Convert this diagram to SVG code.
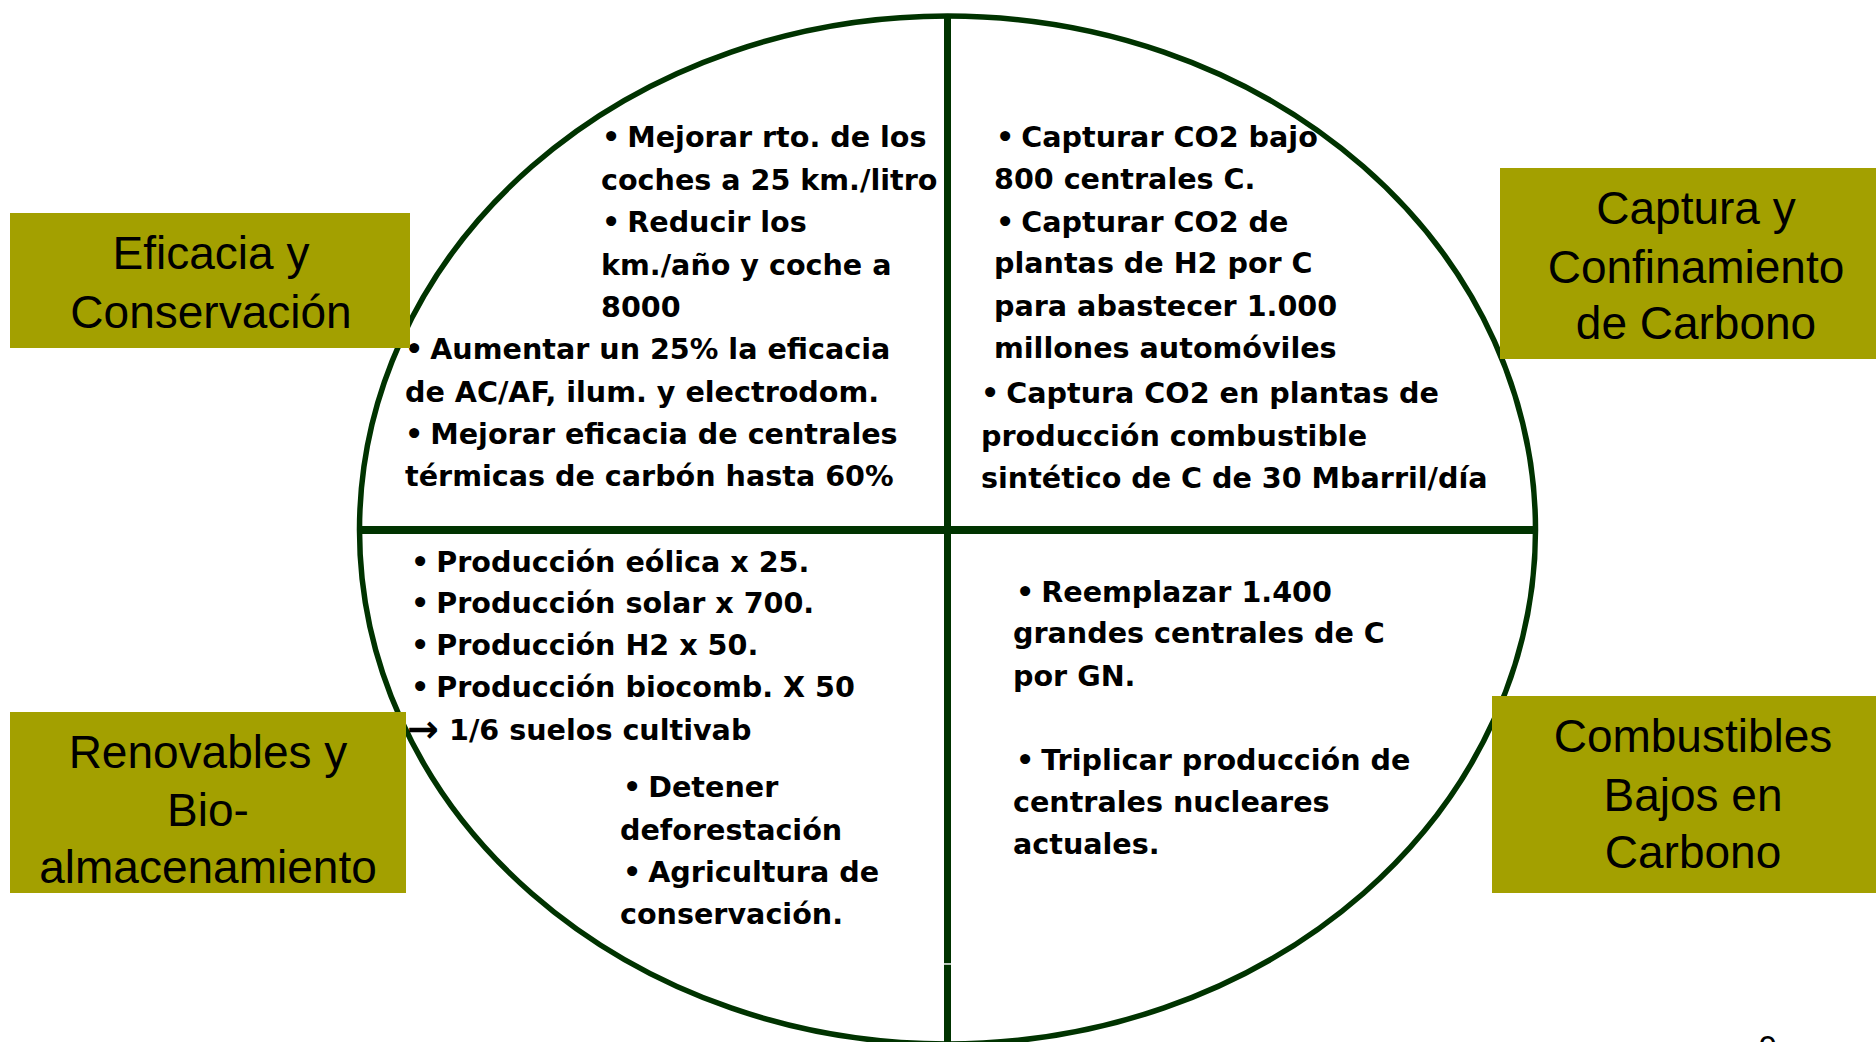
<svg xmlns="http://www.w3.org/2000/svg" width="1876" height="1042" viewBox="0 0 1876 1042">
<style>
.frame{fill:none;stroke:#003300;}
.box{fill:#A3A000;}
.title{font-family:"Liberation Sans",Arial,sans-serif;font-size:46px;fill:#000;text-anchor:middle;}
.body{font-family:"DejaVu Sans",Verdana,sans-serif;font-weight:bold;font-size:28.6px;fill:#000;}
.b{letter-spacing:-3px;}
</style>
<rect width="1876" height="1042" fill="#fff"/>
<g id="connectors">
  <ellipse class="frame" cx="947.5" cy="530" rx="588" ry="514" stroke-width="5.5"/>
  <line class="frame" x1="360" y1="530" x2="1535" y2="530" stroke-width="8"/>
  <line class="frame" x1="947.5" y1="16" x2="947.5" y2="963.3" stroke-width="7"/>
  <line class="frame" x1="947.5" y1="964.7" x2="947.5" y2="1042" stroke-width="7"/>
</g>
<g id="quadrant-tl">
  <text class="body" x="602" y="147"><tspan class="b">•</tspan> Mejorar rto. de los</text>
  <text class="body" x="601" y="190">coches a 25 km./litro</text>
  <text class="body" x="602" y="232"><tspan class="b">•</tspan> Reducir los</text>
  <text class="body" x="601" y="275">km./año y coche a</text>
  <text class="body" x="601" y="317">8000</text>
  <text class="body" x="405" y="359"><tspan class="b">•</tspan> Aumentar un 25% la eficacia</text>
  <text class="body" x="405" y="402">de AC/AF, ilum. y electrodom.</text>
  <text class="body" x="405" y="444"><tspan class="b">•</tspan> Mejorar eficacia de centrales</text>
  <text class="body" x="405" y="486">térmicas de carbón hasta 60%</text>
</g>
<g id="quadrant-tr">
  <text class="body" x="996" y="147"><tspan class="b">•</tspan> Capturar CO2 bajo</text>
  <text class="body" x="994" y="189">800 centrales C.</text>
  <text class="body" x="996" y="232"><tspan class="b">•</tspan> Capturar CO2 de</text>
  <text class="body" x="994" y="273">plantas de H2 por C</text>
  <text class="body" x="994" y="316">para abastecer 1.000</text>
  <text class="body" x="994" y="358">millones automóviles</text>
  <text class="body" x="981" y="403"><tspan class="b">•</tspan> Captura CO2 en plantas de</text>
  <text class="body" x="981" y="446">producción combustible</text>
  <text class="body" x="981" y="488">sintético de C de 30 Mbarril/día</text>
</g>
<g id="quadrant-bl">
  <text class="body" x="411" y="572"><tspan class="b">•</tspan> Producción eólica x 25.</text>
  <text class="body" x="411" y="613"><tspan class="b">•</tspan> Producción solar x 700.</text>
  <text class="body" x="411" y="655"><tspan class="b">•</tspan> Producción H2 x 50.</text>
  <text class="body" x="411" y="697"><tspan class="b">•</tspan> Producción biocomb. X 50</text>
  <text class="body" x="407" y="742"><tspan style="font-size:38px">→</tspan><tspan x="449" y="740">1/6 suelos cultivab</tspan></text>
  <text class="body" x="623" y="797"><tspan class="b">•</tspan> Detener</text>
  <text class="body" x="620" y="840">deforestación</text>
  <text class="body" x="623" y="882"><tspan class="b">•</tspan> Agricultura de</text>
  <text class="body" x="620" y="924">conservación.</text>
</g>
<g id="quadrant-br">
  <text class="body" x="1016" y="602"><tspan class="b">•</tspan> Reemplazar 1.400</text>
  <text class="body" x="1013" y="643">grandes centrales de C</text>
  <text class="body" x="1013" y="686">por GN.</text>
  <text class="body" x="1016" y="770"><tspan class="b">•</tspan> Triplicar producción de</text>
  <text class="body" x="1013" y="812">centrales nucleares</text>
  <text class="body" x="1013" y="854">actuales.</text>
</g>
<g id="node-eficacia">
  <rect class="box" x="10" y="213" width="400" height="135"/>
  <text class="title" x="211" y="269">Eficacia y</text>
  <text class="title" x="211" y="328">Conservación</text>
</g>
<g id="node-captura">
  <rect class="box" x="1500" y="168" width="376" height="191"/>
  <text class="title" x="1696" y="224">Captura y</text>
  <text class="title" x="1696" y="283">Confinamiento</text>
  <text class="title" x="1696" y="339">de Carbono</text>
</g>
<g id="node-renovables">
  <rect class="box" x="10" y="712" width="396" height="181"/>
  <text class="title" x="208" y="768">Renovables y</text>
  <text class="title" x="208" y="826">Bio-</text>
  <text class="title" x="208" y="883">almacenamiento</text>
</g>
<g id="node-combustibles">
  <rect class="box" x="1492" y="696" width="384" height="197"/>
  <text class="title" x="1693" y="752">Combustibles</text>
  <text class="title" x="1693" y="811">Bajos en</text>
  <text class="title" x="1693" y="868">Carbono</text>
</g>
<text class="body" x="1768" y="1058" text-anchor="middle" style="font-weight:normal;font-size:30px">9</text>
</svg>
